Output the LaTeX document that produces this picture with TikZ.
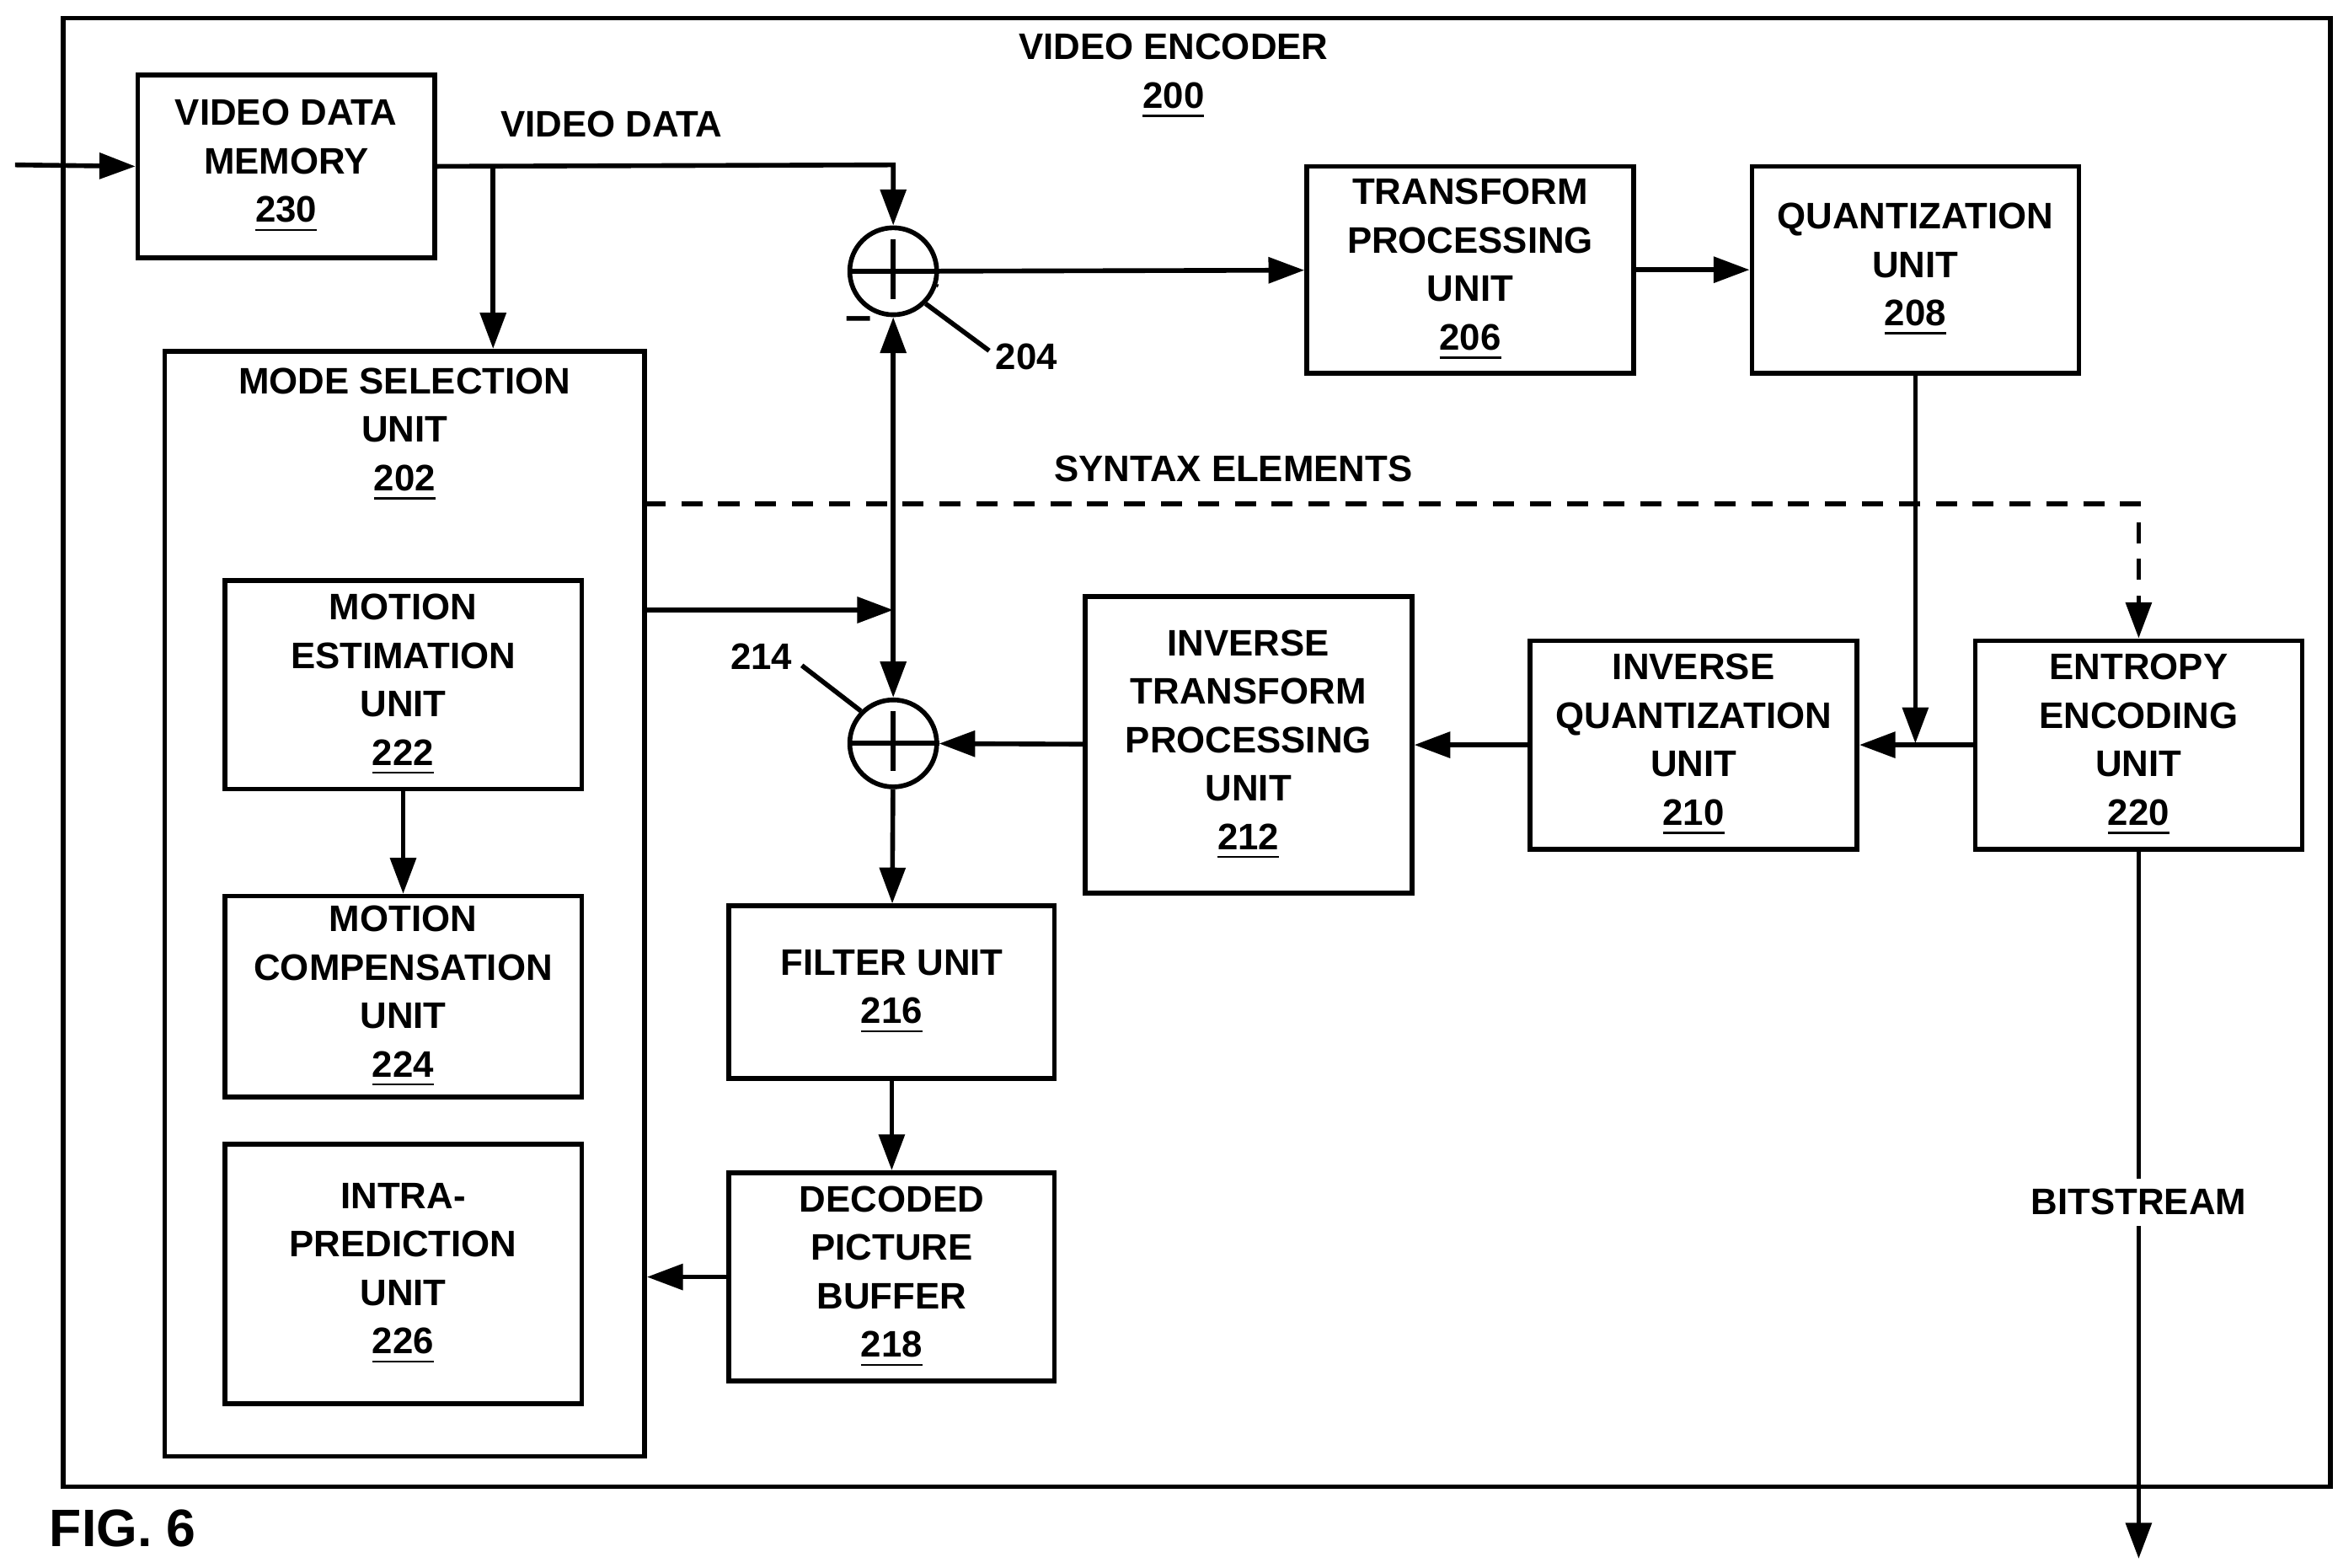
\documentclass[tikz,border=0pt]{standalone}
\usepackage{fontspec}
\setmainfont{Liberation Sans}
\usetikzlibrary{arrows.meta}
\tikzset{
  box/.style={draw, line width=0.9pt, align=center, inner sep=0pt},
  summer/.style={draw, circle, line width=0.9pt, minimum size=0.58cm, inner sep=0pt},
  conn/.style={line width=0.9pt, -{Triangle[length=0.24cm,width=0.17cm]}},
  lbl/.style={font=\bfseries\fontsize{7}{9.2}\selectfont, align=center},
}
\begin{document}
\begin{tikzpicture}[x=0.01cm, y=-0.01cm, line width=0.9pt,
  every node/.append style={font=\bfseries\fontsize{7}{9.2}\selectfont}]
  \useasboundingbox (0,0) rectangle (1560,1046);
  \draw (42,12) rectangle (1555,992);
  \node[lbl] (title) at (783,51) {VIDEO ENCODER\\\underline{200}};
  \node[font=\bfseries\fontsize{10}{12}\selectfont] (fig) at (82,1020) {FIG. 6};
  % blocks
  \node[box, minimum width=1.98cm, minimum height=1.22cm] (vdm) at (191,111) {VIDEO DATA\\MEMORY\\\underline{230}};
  \node[box, minimum width=3.2cm, minimum height=7.37cm] (msu) at (270,603) {};
  \node[lbl] (msut) at (270,290) {MODE SELECTION\\UNIT\\\underline{202}};
  \node[box, minimum width=2.38cm, minimum height=1.39cm] (meu) at (269,457) {MOTION\\ESTIMATION\\UNIT\\\underline{222}};
  \node[box, minimum width=2.38cm, minimum height=1.34cm] (mcu) at (269,665) {MOTION\\COMPENSATION\\UNIT\\\underline{224}};
  \node[box, minimum width=2.38cm, minimum height=1.73cm] (ipu) at (269,850) {INTRA-\\PREDICTION\\UNIT\\\underline{226}};
  \node[box, minimum width=2.18cm, minimum height=1.38cm] (tpu) at (981,180) {TRANSFORM\\PROCESSING\\UNIT\\\underline{206}};
  \node[box, minimum width=2.18cm, minimum height=1.38cm] (qu) at (1278,180) {QUANTIZATION\\UNIT\\\underline{208}};
  \node[box, minimum width=2.18cm, minimum height=1.98cm] (itpu) at (833,497) {INVERSE\\TRANSFORM\\PROCESSING\\UNIT\\\underline{212}};
  \node[box, minimum width=2.18cm, minimum height=1.39cm] (iqu) at (1130,497) {INVERSE\\QUANTIZATION\\UNIT\\\underline{210}};
  \node[box, minimum width=2.18cm, minimum height=1.39cm] (eeu) at (1427,497) {ENTROPY\\ENCODING\\UNIT\\\underline{220}};
  \node[box, minimum width=2.17cm, minimum height=1.15cm] (fu) at (595,662) {FILTER UNIT\\\underline{216}};
  \node[box, minimum width=2.17cm, minimum height=1.39cm] (dpb) at (595,852) {DECODED\\PICTURE\\BUFFER\\\underline{218}};
  \node[summer] (s204) at (596,181) {};
  \node[summer] (s214) at (596,496) {};
  \draw (s204.west) -- (s204.east) (s204.north) ++(0,9) -- ++(0,40);
  \draw (s214.west) -- (s214.east) (s214.north) ++(0,9) -- ++(0,40);
  \draw[line width=0.6pt] (s204.-18) ++(0,0) -- ++(-22:0.01cm);
  \node[font=\bfseries\fontsize{9}{10}\selectfont] (minus) at (573,216) {--};
  \node (l204) at (685,238) {204};
  \draw (s204.south east) -- (660,234);
  \node (l214) at (508,438) {214};
  \draw (s214.north west) -- (535,444);
  % connectors
  \coordinate (in) at (10,110);
  \coordinate (vdj) at (329,110);
  \coordinate (vdk) at (596,110);
  \draw[conn] (in) -- (vdm.west);
  \node (vdl) at (408,83) {VIDEO DATA};
  \draw[conn] (vdm.east) -- (vdk) -- (s204.north);
  \draw[conn] (vdj) -- (vdj |- msu.north);
  \draw[conn] (s204) -- (tpu);
  \draw[conn] (tpu) -- (qu);
  \coordinate (pj) at (596,407);
  \draw[conn] (430,407) -- (pj);
  \draw[conn] (pj) -- (s204.south);
  \draw[conn] (pj) -- (s214.north);
  \draw[conn] (meu) -- (mcu);
  \coordinate (qj) at (1278,496);
  \draw[conn] (qu.south) -- (qj);
  \draw[conn, {Triangle[length=0.24cm,width=0.17cm]}-] (iqu.east) -- (eeu.west);
  \draw[conn] (iqu) -- (itpu);
  \draw[conn] (itpu) -- (s214);
  \draw[conn] (s214) -- (fu);
  \draw[conn] (fu) -- (dpb);
  \draw[conn] (dpb.west) -- (msu.east |- dpb.west);
  \coordinate (se) at (1427,336);
  \draw[conn, dashed, dash pattern=on 4pt off 3pt] (430,336) -- (se) -- (eeu.north);
  \node (sel) at (823,313) {SYNTAX ELEMENTS};
  \coordinate (out) at (1427,1040);
  \draw[conn] (eeu.south) -- (out);
  \node[fill=white, inner sep=2pt] (bs) at (1427,802) {BITSTREAM};
\end{tikzpicture}
\end{document}
